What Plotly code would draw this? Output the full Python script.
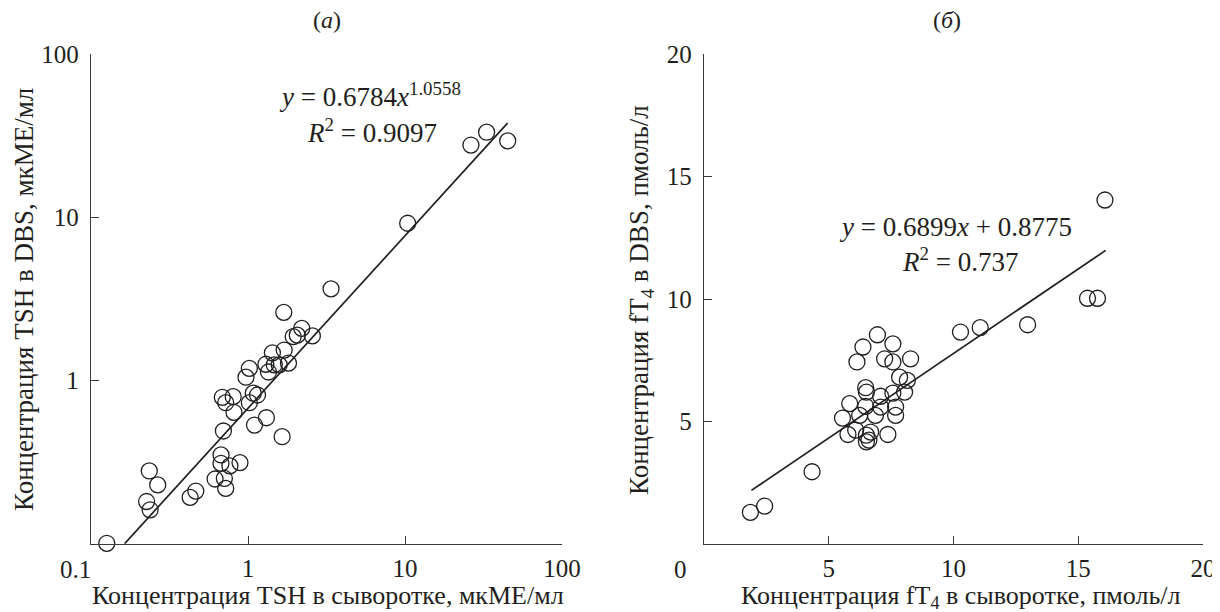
import numpy as np
import plotly.graph_objects as go

# ---------------- data: panel (а) TSH (log-log) ----------------
tsh_serum = [0.126, 0.235, 0.266, 0.226, 0.238, 0.428, 0.465, 0.617, 0.707, 0.721,
             0.673, 0.673, 0.767, 0.889, 0.697, 0.686, 0.721, 0.805, 0.814, 0.971,
             1.02, 1.02, 1.08, 1.15, 1.10, 1.31, 1.65, 1.30, 1.35, 1.43,
             1.47, 1.58, 1.70, 1.81, 1.69, 1.94, 2.06, 2.20, 2.57, 3.38,
             10.4, 26.3, 33.1, 45.1]
tsh_dbs = [0.101, 0.280, 0.230, 0.182, 0.162, 0.193, 0.211, 0.250, 0.252, 0.219,
           0.351, 0.312, 0.301, 0.315, 0.492, 0.791, 0.733, 0.798, 0.640, 1.05,
           1.19, 0.733, 0.838, 0.817, 0.535, 0.593, 0.454, 1.26, 1.13, 1.48,
           1.25, 1.25, 1.54, 1.28, 2.62, 1.86, 1.90, 2.09, 1.88, 3.65,
           9.2, 27.7, 33.2, 29.4]
tsh_fit_a, tsh_fit_b = 0.6784, 1.0558
tsh_fit_range = [0.164, 45.0]

# ---------------- data: panel (б) fT4 (linear) ----------------
ft4_serum = [1.86, 2.43, 4.33, 6.95, 6.37, 6.13, 7.57, 7.24, 7.57, 8.28,
             7.84, 8.15, 8.04, 6.48, 6.51, 7.08, 7.57, 5.84, 6.48, 7.08,
             7.68, 5.55, 6.24, 6.87, 7.68, 5.77, 6.51, 6.68, 6.51, 6.61,
             7.37, 6.08, 10.28, 11.07, 12.97, 16.07, 15.37, 15.77]
ft4_dbs = [1.29, 1.55, 2.95, 8.54, 8.04, 7.43, 8.17, 7.56, 7.43, 7.56,
           6.81, 6.68, 6.20, 6.38, 6.20, 6.03, 6.16, 5.73, 5.62, 5.59,
           5.59, 5.14, 5.25, 5.25, 5.25, 4.47, 4.44, 4.57, 4.17, 4.24,
           4.47, 4.65, 8.65, 8.83, 8.95, 14.04, 10.03, 10.03]
ft4_fit_k, ft4_fit_b = 0.6899, 0.8775
ft4_fit_range = [1.9, 16.1]

log_ticks = [1, 10, 100]
lin_ticks = [5, 10, 15, 20]

INK = "#231f20"
FONT = "Liberation Serif"
# the page body has an 8px margin, so the figure is drawn 8px in from the window corner
OFF = 8
W, H = 1220 - OFF, 612 - OFF

fig = go.Figure()

marker = dict(symbol="circle-open", size=16, color=INK, line=dict(width=1.3, color=INK))

# panel (а)
xa = np.logspace(np.log10(tsh_fit_range[0]), np.log10(tsh_fit_range[1]), 60)
fig.add_trace(go.Scatter(x=xa, y=tsh_fit_a * xa ** tsh_fit_b, mode="lines",
                         line=dict(color=INK, width=1.7), xaxis="x", yaxis="y",
                         showlegend=False, hoverinfo="skip"))
fig.add_trace(go.Scatter(x=tsh_serum, y=tsh_dbs, mode="markers", marker=marker,
                         xaxis="x", yaxis="y", showlegend=False, cliponaxis=False))

# panel (б)
xb = np.array(ft4_fit_range)
fig.add_trace(go.Scatter(x=xb, y=ft4_fit_k * xb + ft4_fit_b, mode="lines",
                         line=dict(color=INK, width=1.7), xaxis="x2", yaxis="y2",
                         showlegend=False, hoverinfo="skip"))
fig.add_trace(go.Scatter(x=ft4_serum, y=ft4_dbs, mode="markers", marker=marker,
                         xaxis="x2", yaxis="y2", showlegend=False, cliponaxis=False))

def px_x(p):
    return (p - OFF) / W

def px_y(p):
    return 1 - (p - OFF) / H

TICK_SIZE = 25
axis_common = dict(showgrid=False, zeroline=False, showline=True, linecolor="#3a3a3a",
                   linewidth=1.3, ticks="inside", ticklen=8, tickwidth=1.3,
                   tickcolor="#3a3a3a", tickfont=dict(family=FONT, size=TICK_SIZE, color=INK),
                   mirror=False, automargin=False)

ydom = [px_y(544), px_y(54)]
fig.update_layout(
    width=W, height=H, margin=dict(l=0, r=0, t=0, b=0, autoexpand=False),
    paper_bgcolor="white", plot_bgcolor="white",
    font=dict(family=FONT, color=INK, size=25),
    xaxis=dict(domain=[px_x(91), px_x(562)], type="log", range=[-1, 2],
               tickvals=log_ticks, ticktext=[str(v) for v in log_ticks],
               anchor="y", ticklabelstandoff=2, **axis_common),
    yaxis=dict(domain=ydom, type="log", range=[-1, 2],
               tickvals=log_ticks, ticktext=[str(v) for v in log_ticks],
               anchor="x", ticklabelstandoff=6, **axis_common),
    xaxis2=dict(domain=[px_x(704), px_x(1203)], range=[0, 20],
                tickvals=lin_ticks, anchor="y2", ticklabelstandoff=2, **axis_common),
    yaxis2=dict(domain=ydom, range=[0, 20], tickvals=lin_ticks,
                anchor="x2", ticklabelstandoff=6, **axis_common),
)

def ann(text, x, y, size=27, angle=0, xanchor="center"):
    fig.add_annotation(text=text, x=px_x(x), y=px_y(y), xref="paper", yref="paper",
                       showarrow=False, textangle=angle, xanchor=xanchor, yanchor="middle",
                       font=dict(family=FONT, size=size, color=INK))

ann("(<i>а</i>)", 327, 20, size=24)
ann("(<i>б</i>)", 947, 20, size=24)
ann("0.1", 75, 569, size=TICK_SIZE)
ann("0", 680, 569, size=TICK_SIZE)
ann("Концентрация TSH в сыворотке, мкМЕ/мл", 328, 595, size=26)
ann("Концентрация fT<sub>4</sub> в сыворотке, пмоль/л", 960, 597, size=26)
ann("Концентрация TSH в DBS, мкМЕ/мл", 24, 300, size=27, angle=-90)
ann("Концентрация fT<sub>4</sub> в DBS, пмоль/л", 641, 300, size=27, angle=-90)
ann("<i>y</i> = 0.6784<i>x</i><sup>1.0558</sup>", 370, 95)
ann("<i>R</i><sup>2</sup> = 0.9097", 372, 131)
ann("<i>y</i> = 0.6899<i>x</i> + 0.8775", 955, 227)
ann("<i>R</i><sup>2</sup> = 0.737", 960, 260)

fig.write_html("out.html")
